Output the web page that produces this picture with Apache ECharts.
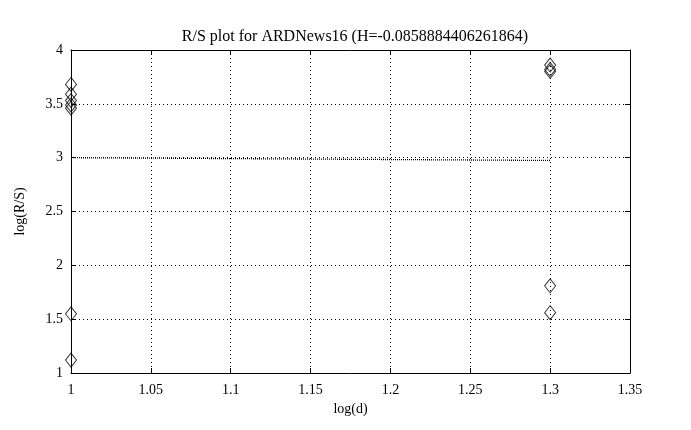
<!DOCTYPE html>
<html>
<head>
<meta charset="utf-8">
<script src="https://cdn.jsdelivr.net/npm/echarts@6/dist/echarts.min.js"></script>
<style>html,body{margin:0;padding:0;background:#fff;}#c{width:691px;height:430px;}</style>
</head>
<body>
<div id="c"></div>
<script>
var titleText = 'R/S plot for ARDNews16 (H=-0.0858884406261864)';
var xTicks = [1, 1.05, 1.1, 1.15, 1.2, 1.25, 1.3, 1.35];
var yTicks = [1, 1.5, 2, 2.5, 3, 3.5, 4];
var logD = [1, 1, 1, 1, 1, 1, 1, 1.3, 1.3, 1.3, 1.3, 1.3];
var logRS = [3.68, 3.59, 3.53, 3.49, 3.46, 1.55, 1.12, 3.86, 3.82, 3.80, 1.81, 1.56];
var fitX = [1, 1.3];
var fitY = [3.0, 2.974];

var pts = logD.map(function (d, i) { return [d, logRS[i]]; });
var fit = fitX.map(function (d, i) { return [d, fitY[i]]; });
var font = 'Liberation Serif, Times New Roman, serif';
var chart = echarts.init(document.getElementById('c'));
function xAxis(pos, showLabel) {
  return {
    type: 'value', position: pos, min: xTicks[0], max: xTicks[xTicks.length - 1], interval: 0.05,
    axisLine: { show: true, onZero: false, lineStyle: { color: '#000', width: 1 } },
    axisTick: { show: true, inside: true, length: 5, lineStyle: { color: '#000' } },
    axisLabel: { show: showLabel, color: '#000', fontFamily: font, fontSize: 14, margin: 10,
      formatter: function (v) { return String(+v.toFixed(2)); } },
    splitLine: { show: showLabel, lineStyle: { color: '#000', type: [1, 3], width: 1 } },
    name: showLabel ? 'log(d)' : '', nameLocation: 'middle', nameGap: 29,
    nameTextStyle: { color: '#000', fontFamily: font, fontSize: 14 }
  };
}
function yAxis(pos, showLabel) {
  return {
    type: 'value', position: pos, min: yTicks[0], max: yTicks[yTicks.length - 1], interval: 0.5,
    axisLine: { show: true, onZero: false, lineStyle: { color: '#000', width: 1 } },
    axisTick: { show: true, inside: true, length: 5, lineStyle: { color: '#000' } },
    axisLabel: { show: showLabel, color: '#000', fontFamily: font, fontSize: 14, margin: 8,
      formatter: function (v) { return String(+v.toFixed(1)); } },
    splitLine: { show: showLabel, lineStyle: { color: '#000', type: [1, 3], width: 1 } },
    name: showLabel ? 'log(R/S)' : '', nameLocation: 'middle', nameGap: 44,
    nameTextStyle: { color: '#000', fontFamily: font, fontSize: 14 }
  };
}
chart.setOption({
  backgroundColor: '#fff',
  animation: false,
  title: { text: titleText, left: 350, top: 24, textAlign: 'center',
    textStyle: { color: '#000', fontFamily: font, fontSize: 16, fontWeight: 'normal' } },
  grid: { left: 71, right: 61, top: 50, bottom: 57 },
  xAxis: [xAxis('bottom', true), xAxis('top', false)],
  yAxis: [yAxis('left', true), yAxis('right', false)],
  series: [
    { type: 'line', data: fit, showSymbol: false, symbol: 'none',
      lineStyle: { color: '#000', width: 1.3, type: [1, 1] }, z: 3 },
    { type: 'scatter', data: pts, symbol: 'diamond', symbolSize: [11, 14],
      itemStyle: { color: 'rgba(255,255,255,0)', borderColor: '#000', borderWidth: 1 }, z: 4 }
  ]
});
</script>
</body>
</html>
